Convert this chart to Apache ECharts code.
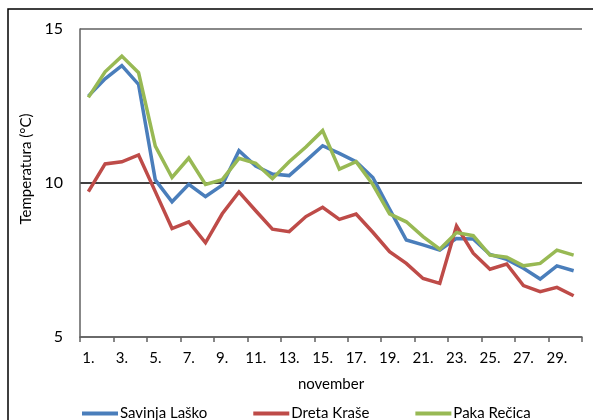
<!DOCTYPE html>
<html>
<head>
<meta charset="utf-8">
<script src="https://cdn.jsdelivr.net/npm/echarts@6/dist/echarts.min.js"></script>
<style>
html,body{margin:0;padding:0;background:#fff;}
#chart{width:593px;height:420px;}
</style>
</head>
<body>
<div id="chart"></div>
<script>
var categories = ['1.','2.','3.','4.','5.','6.','7.','8.','9.','10.','11.','12.','13.','14.','15.','16.','17.','18.','19.','20.','21.','22.','23.','24.','25.','26.','27.','28.','29.','30.'];
var savinjaLasko = [12.82,13.38,13.81,13.2,10.1,9.39,9.96,9.56,9.93,11.05,10.55,10.29,10.24,10.72,11.21,10.96,10.69,10.18,9.15,8.15,7.99,7.82,8.2,8.18,7.68,7.52,7.23,6.88,7.31,7.15];
var dretaKrase = [9.72,10.62,10.69,10.91,9.72,8.52,8.74,8.06,9.0,9.71,9.1,8.5,8.42,8.91,9.21,8.82,8.99,8.4,7.77,7.39,6.9,6.74,8.6,7.72,7.2,7.37,6.67,6.47,6.61,6.34];
var pakaRecica = [12.78,13.61,14.12,13.58,11.2,10.18,10.81,9.95,10.11,10.8,10.64,10.14,10.69,11.17,11.7,10.45,10.69,9.95,9.0,8.74,8.26,7.85,8.39,8.29,7.66,7.59,7.31,7.39,7.82,7.66];
var seriesNames = ['Savinja Laško','Dreta Kraše','Paka Rečica'];
var colors = ['#4A7EBB','#BE4B48','#98B954'];

var font = 'Lato';
var chart = echarts.init(document.getElementById('chart'), null, {renderer:'canvas'});
function mk(name, data, color){
  return {name:name,type:'line',data:data,symbol:'none',smooth:false,
    lineStyle:{color:color,width:3.5,join:'miter'},itemStyle:{color:color}};
}
chart.setOption({
  animation:false,
  color:colors,
  textStyle:{fontFamily:font},
  grid:{left:80,right:11,top:29,bottom:83},
  graphic:[{type:'rect',shape:{x:8,y:9,width:700,height:600},style:{fill:'none',stroke:'#000',lineWidth:1.5},silent:true}],
  legend:{left:77,top:401,itemWidth:36,itemHeight:4,itemGap:46,icon:'rect',
    textStyle:{fontFamily:font,fontSize:15,color:'#000',padding:[0,0,0,-3]},data:seriesNames},
  xAxis:{type:'category',data:categories,boundaryGap:true,
    name:'november',nameLocation:'middle',nameGap:40,
    nameTextStyle:{fontFamily:font,fontSize:15,color:'#000'},
    axisLine:{lineStyle:{color:'#606060',width:1.5}},
    axisTick:{show:true,interval:1,length:5,lineStyle:{color:'#606060',width:1.5}},
    axisLabel:{interval:1,margin:14,fontFamily:font,fontSize:15,color:'#000'},
    splitLine:{show:false}},
  yAxis:{type:'value',min:5,max:15,interval:5,
    name:'Temperatura (°C)',nameLocation:'middle',nameGap:39,
    nameTextStyle:{fontFamily:font,fontSize:15,color:'#000',padding:[0,0,0,28]},
    axisLine:{show:true,lineStyle:{color:'#606060',width:1.5}},
    axisTick:{show:false},
    axisLabel:{margin:17,fontFamily:font,fontSize:16,color:'#000'},
    splitLine:{show:true,lineStyle:{color:['#606060','#000','#606060'],width:1.5}}},
  series:[mk(seriesNames[0],savinjaLasko,colors[0]),mk(seriesNames[1],dretaKrase,colors[1]),mk(seriesNames[2],pakaRecica,colors[2])]
});
</script>
</body>
</html>
